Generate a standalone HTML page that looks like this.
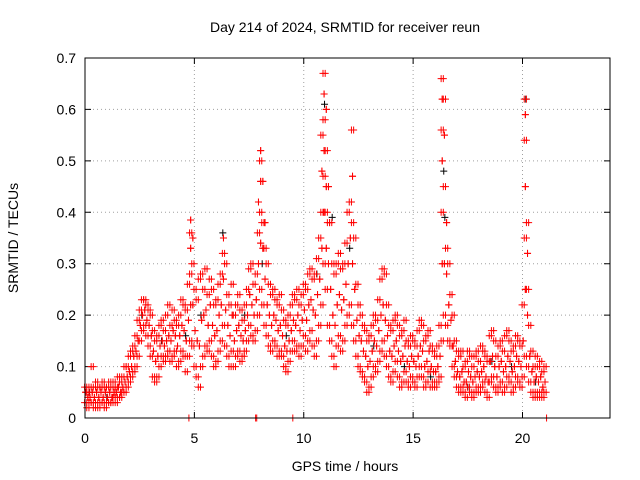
<!DOCTYPE html>
<html>
<head>
<meta charset="utf-8">
<style>
html,body{margin:0;padding:0;background:#fff;}
svg{display:block;font-family:"Liberation Sans",sans-serif;}
</style>
</head>
<body>
<svg id="chart" width="640" height="480" viewBox="0 0 640 480" xmlns="http://www.w3.org/2000/svg">
  <text x="345" y="32" font-size="14" text-anchor="middle" fill="#000">Day 214 of 2024, SRMTID for receiver reun</text>
  <text x="345" y="471" font-size="14" text-anchor="middle" fill="#000">GPS time / hours</text>
  <text x="18" y="238" font-size="14" text-anchor="middle" fill="#000" transform="rotate(-90 18 238)">SRMTID / TECUs</text>
  <g id="grid"></g>
  <g id="ticks"></g>
  <g id="black-series"></g>
  <g id="red-series"></g>
  <rect x="85" y="58" width="525" height="360" fill="none" stroke="#000" stroke-width="1"/>
</svg>
<script>
const xTicks = [0, 5, 10, 15, 20];
const yTicks = [0, 0.1, 0.2, 0.3, 0.4, 0.5, 0.6, 0.7];
const yTickLabels = ["0", "0.1", "0.2", "0.3", "0.4", "0.5", "0.6", "0.7"];
const startHour = 0;
const stepHour = 0.1;
const redValues = [
[0.03,0.05,0.06],[0.02,0.04,0.05],[0.03,0.04,0.06],[0.03,0.05,0.10],[0.02,0.04,0.06],
[0.03,0.05,0.07],[0.02,0.04,0.06],[0.03,0.05,0.06],[0.03,0.04,0.07],[0.02,0.05,0.06],
[0.03,0.04,0.06],[0.03,0.05,0.07],[0.03,0.04,0.06],[0.04,0.05,0.07],[0.03,0.05,0.06],
[0.04,0.06,0.08],[0.04,0.05,0.07],[0.05,0.06,0.08],[0.05,0.07,0.10],[0.06,0.08,0.10],
[0.07,0.09,0.12],[0.08,0.10,0.13],[0.09,0.12,0.14],[0.10,0.13,0.16],[0.12,0.15,0.19],
[0.15,0.18,0.21],[0.17,0.20,0.23],[0.18,0.21,0.23],[0.16,0.19,0.22],[0.14,0.18,0.21],
[0.12,0.16,0.20],[0.08,0.13,0.17],[0.07,0.11,0.15],[0.08,0.12,0.16],[0.10,0.14,0.18],
[0.12,0.15,0.19],[0.11,0.14,0.17],[0.12,0.15,0.20],[0.13,0.16,0.22],[0.11,0.15,0.18],
[0.12,0.17,0.21],[0.13,0.16,0.19],[0.10,0.14,0.18],[0.11,0.16,0.20],[0.13,0.18,0.23],
[0.12,0.17,0.22],[0.09,0.15,0.21],[0.12,0.19,0.26],[0.15,0.22,0.28,0.33,0.36,0.385],[0.14,0.22,0.30,0.35],
[0.10,0.17,0.25],[0.08,0.15,0.23],[0.06,0.14,0.27],[0.10,0.19,0.28],[0.12,0.20,0.25],
[0.14,0.21,0.29],[0.13,0.18,0.24],[0.15,0.22,0.27],[0.12,0.18,0.25],[0.10,0.16,0.22],
[0.11,0.17,0.23],[0.13,0.20,0.26],[0.15,0.22,0.28],[0.18,0.27,0.32,0.35],[0.14,0.21,0.30],
[0.12,0.18,0.24],[0.10,0.16,0.22],[0.13,0.20,0.26],[0.10,0.15,0.20],[0.12,0.17,0.22],
[0.13,0.18,0.24],[0.11,0.16,0.21],[0.12,0.15,0.19],[0.13,0.17,0.22],[0.15,0.20,0.25],
[0.18,0.24,0.29],[0.16,0.22,0.30],[0.15,0.20,0.26],[0.17,0.23,0.28],[0.20,0.30,0.36,0.42],
[0.25,0.34,0.40,0.46,0.50,0.52],[0.22,0.33,0.38,0.46],[0.18,0.27,0.33,0.38],[0.16,0.22,0.30],[0.14,0.20,0.26],
[0.13,0.18,0.24],[0.15,0.20,0.25],[0.14,0.19,0.23],[0.12,0.17,0.22],[0.13,0.18,0.24],
[0.12,0.16,0.21],[0.10,0.14,0.19],[0.09,0.13,0.18],[0.11,0.15,0.20],[0.13,0.17,0.22],
[0.15,0.19,0.24],[0.13,0.18,0.23],[0.14,0.20,0.25],[0.12,0.17,0.22],[0.14,0.19,0.24],
[0.16,0.21,0.26],[0.13,0.19,0.25],[0.15,0.22,0.28],[0.17,0.23,0.29],[0.14,0.21,0.27],
[0.12,0.20,0.28],[0.15,0.24,0.31],[0.18,0.27,0.35],[0.22,0.33,0.40,0.48,0.55],[0.30,0.40,0.47,0.52,0.58,0.63,0.67],
[0.25,0.33,0.40,0.45,0.52,0.60],[0.18,0.30,0.38,0.45],[0.15,0.25,0.38],[0.12,0.20,0.30],[0.10,0.18,0.28],
[0.14,0.22,0.30],[0.16,0.24,0.32],[0.13,0.21,0.29],[0.15,0.23,0.30],[0.18,0.26,0.34],
[0.20,0.30,0.40],[0.22,0.35,0.42],[0.18,0.30,0.38,0.47,0.56],[0.15,0.25,0.35],[0.12,0.19,0.26],
[0.10,0.16,0.22],[0.09,0.15,0.20],[0.08,0.13,0.18],[0.07,0.12,0.17],[0.05,0.10,0.15],
[0.06,0.11,0.16],[0.08,0.13,0.18],[0.10,0.15,0.20],[0.09,0.14,0.19],[0.11,0.17,0.23],
[0.13,0.20,0.27],[0.15,0.22,0.29],[0.12,0.19,0.28],[0.10,0.16,0.22],[0.08,0.13,0.18],
[0.07,0.12,0.17],[0.09,0.14,0.19],[0.11,0.15,0.20],[0.08,0.13,0.18],[0.06,0.11,0.16],
[0.07,0.12,0.17],[0.09,0.14,0.19],[0.07,0.11,0.15],[0.06,0.10,0.14],[0.08,0.12,0.16],
[0.07,0.11,0.15],[0.06,0.10,0.14],[0.08,0.12,0.17],[0.10,0.14,0.19],[0.08,0.13,0.18],
[0.06,0.10,0.15],[0.07,0.11,0.16],[0.09,0.13,0.17],[0.06,0.10,0.14],[0.07,0.09,0.13],
[0.06,0.09,0.12],[0.07,0.10,0.14],[0.08,0.12,0.18],[0.15,0.30,0.40,0.50,0.56,0.62,0.66],[0.20,0.30,0.45,0.55,0.62],
[0.18,0.28,0.33,0.38],[0.15,0.22,0.30],[0.14,0.19,0.24],[0.10,0.14,0.20],[0.08,0.11,0.15],
[0.06,0.09,0.13],[0.05,0.08,0.12],[0.06,0.09,0.13],[0.05,0.07,0.10],[0.04,0.07,0.11],
[0.06,0.09,0.13],[0.05,0.08,0.12],[0.04,0.07,0.10],[0.05,0.08,0.12],[0.06,0.09,0.13],
[0.05,0.08,0.11],[0.06,0.09,0.14],[0.07,0.10,0.13],[0.05,0.08,0.12],[0.04,0.07,0.11],
[0.07,0.11,0.16],[0.08,0.12,0.17],[0.06,0.10,0.15],[0.05,0.08,0.12],[0.06,0.10,0.14],
[0.07,0.11,0.15],[0.05,0.09,0.13],[0.06,0.10,0.16],[0.08,0.12,0.17],[0.07,0.11,0.15],
[0.05,0.09,0.13],[0.06,0.10,0.14],[0.08,0.12,0.16],[0.07,0.11,0.15],[0.06,0.10,0.14],
[0.08,0.15,0.22],[0.12,0.25,0.35,0.45,0.54,0.59,0.62],[0.10,0.20,0.25,0.32,0.38],[0.07,0.12,0.18],[0.05,0.09,0.13],
[0.04,0.07,0.10],[0.05,0.08,0.12],[0.04,0.07,0.10],[0.05,0.08,0.11],[0.04,0.06,0.09],
[0.05,0.07,0.10]
];
const blackHours = [0.2,1.0,2.6,3.5,4.6,5.3,6.3,7.3,8.1,9.2,10.6,10.95,11.3,12.1,13.2,14.6,15.8,16.4,16.45,17.5,18.6,19.5,20.15,20.6];
const blackValues = [0.05,0.04,0.2,0.15,0.16,0.2,0.36,0.2,0.3,0.16,0.28,0.61,0.39,0.33,0.14,0.1,0.08,0.48,0.39,0.06,0.11,0.1,0.62,0.07];
const zeroHours = [4.75, 7.8, 7.85, 9.5, 21.1];

const NS = "http://www.w3.org/2000/svg";
const X0 = 85, X1 = 610, Y0 = 418, Y1 = 58;
const xMax = 24, yMax = 0.7;
function xs(h){ return X0 + (h / xMax) * (X1 - X0); }
function ys(v){ return Y0 - (v / yMax) * (Y0 - Y1); }

const grid = document.getElementById('grid');
const ticks = document.getElementById('ticks');
xTicks.forEach(function(t, i){
  const x = xs(t);
  if (i > 0) {
    const g = document.createElementNS(NS, 'line');
    
    
    g.setAttribute('x1', x); g.setAttribute('x2', x); g.setAttribute('y1', Y1); g.setAttribute('y2', Y0);
    g.setAttribute('stroke', '#a0a0a0'); g.setAttribute('stroke-dasharray', '1,3');
    grid.appendChild(g);
  }
  const tk = document.createElementNS(NS, 'path');
  
  
  tk.setAttribute('d', 'M' + x + ' ' + Y0 + 'v-6M' + x + ' ' + Y1 + 'v6');
  tk.setAttribute('stroke', '#000');
  ticks.appendChild(tk);
  const lb = document.createElementNS(NS, 'text');
  
  
  lb.setAttribute('x', x); lb.setAttribute('y', 443);
  lb.setAttribute('font-size', '14'); lb.setAttribute('text-anchor', 'middle');
  lb.textContent = String(t);
  ticks.appendChild(lb);
});
yTicks.forEach(function(t, i){
  const y = ys(t);
  if (i > 0 && i < yTicks.length - 1) {
    const g = document.createElementNS(NS, 'line');
    
    
    g.setAttribute('x1', X0); g.setAttribute('x2', X1); g.setAttribute('y1', y); g.setAttribute('y2', y);
    g.setAttribute('stroke', '#a0a0a0'); g.setAttribute('stroke-dasharray', '1,3');
    grid.appendChild(g);
  }
  const tk = document.createElementNS(NS, 'path');
  
  
  tk.setAttribute('d', 'M' + X0 + ' ' + y + 'h6M' + X1 + ' ' + y + 'h-6');
  tk.setAttribute('stroke', '#000');
  ticks.appendChild(tk);
  const lb = document.createElementNS(NS, 'text');
  
  
  lb.setAttribute('x', 76); lb.setAttribute('y', y + 5);
  lb.setAttribute('font-size', '14'); lb.setAttribute('text-anchor', 'end');
  lb.textContent = yTickLabels[i];
  ticks.appendChild(lb);
});

function plus(parent, h, v, color, name){
  const x = xs(h), y = ys(v);
  const p = document.createElementNS(NS, 'path');
  
  
  p.setAttribute('d', 'M' + (x - 3.5) + ' ' + y + 'h7M' + x + ' ' + (y - 3.5) + 'v7');
  p.setAttribute('stroke', color);
  p.setAttribute('stroke-width', '1');
  parent.appendChild(p);
}
const blackG = document.getElementById('black-series');
blackHours.forEach(function(h, i){ plus(blackG, h, blackValues[i], '#000', 'black-point'); });
const redG = document.getElementById('red-series');
redValues.forEach(function(vals, i){
  const h = startHour + i * stepHour;
  vals.forEach(function(v, j){
    plus(redG, h + (j % 2 ? 0.03 : -0.02), v, '#ff0000', 'red-point');
    plus(redG, h + (j % 2 ? -0.02 : 0.03) + 0.05, v, '#ff0000', 'red-point');
  });
});
zeroHours.forEach(function(h){ plus(redG, h, 0, '#ff0000', 'red-zero-point'); });
</script>
</body>
</html>
